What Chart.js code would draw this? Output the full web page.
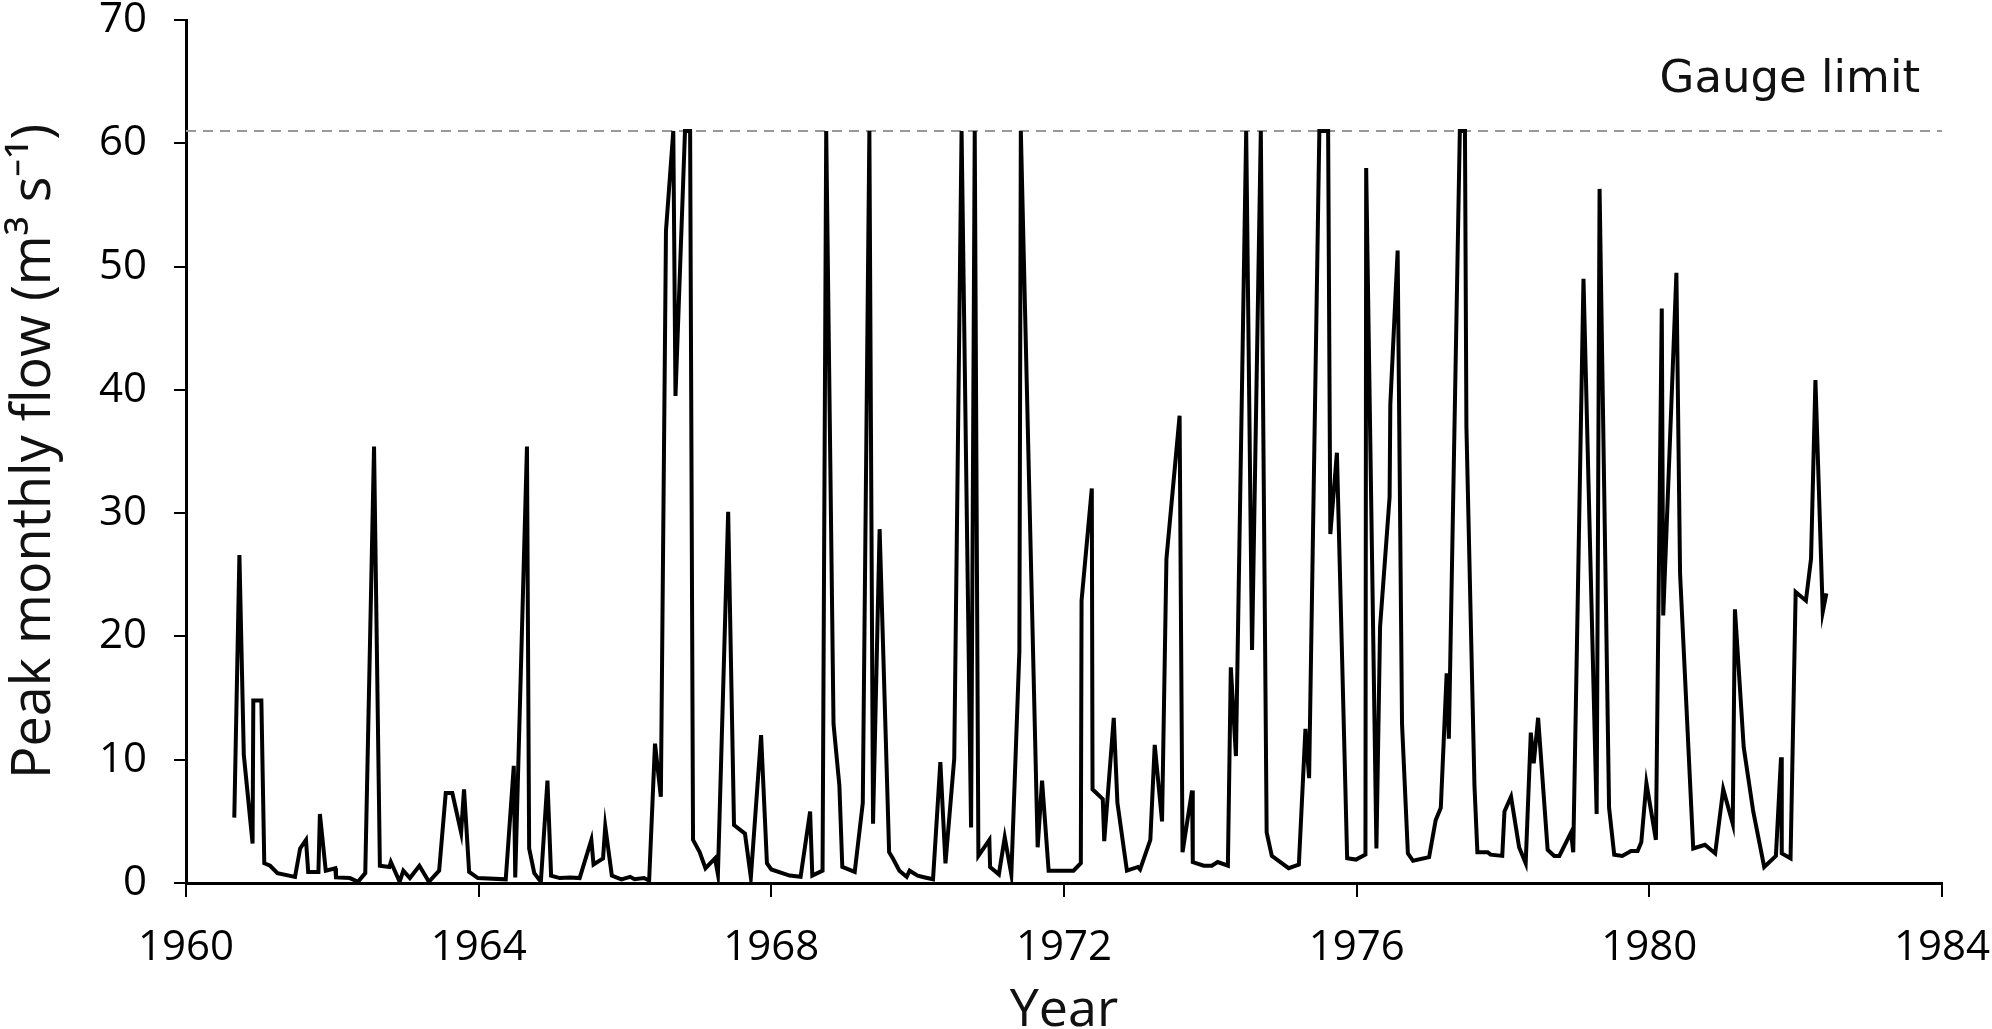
<!DOCTYPE html>
<html>
<head>
<meta charset="utf-8">
<script src="https://cdn.jsdelivr.net/npm/chart.js@4.4.1/dist/chart.umd.min.js"></script>
<style>
  html, body { margin: 0; padding: 0; background: #fff; }
  #wrap { width: 1992px; height: 1029px; }
</style>
</head>
<body>
<div id="wrap"><canvas id="chart_flow"></canvas></div>
<script>
// peak monthly flow (decimal year, m3/s)
var years = [
  1960.66, 1960.73, 1960.79, 1960.91, 1960.92, 1961.03, 1961.07, 1961.15, 1961.25, 1961.49,
  1961.56, 1961.64, 1961.67, 1961.81, 1961.83, 1961.91, 1962.04, 1962.05, 1962.24, 1962.35,
  1962.45, 1962.57, 1962.65, 1962.78, 1962.80, 1962.92, 1962.97, 1963.06, 1963.19, 1963.32,
  1963.46, 1963.55, 1963.64, 1963.76, 1963.80, 1963.87, 1963.99, 1964.37, 1964.48, 1964.50,
  1964.66, 1964.69, 1964.76, 1964.85, 1964.94, 1964.99, 1965.11, 1965.25, 1965.38, 1965.54,
  1965.57, 1965.70, 1965.73, 1965.82, 1965.95, 1966.07, 1966.13, 1966.26, 1966.33, 1966.41,
  1966.49, 1966.56, 1966.66, 1966.69, 1966.82, 1966.89, 1966.93, 1967.02, 1967.10, 1967.23,
  1967.27, 1967.41, 1967.49, 1967.64, 1967.72, 1967.86, 1967.94, 1968.00, 1968.25, 1968.40,
  1968.53, 1968.56, 1968.70, 1968.75, 1968.85, 1968.93, 1968.97, 1969.14, 1969.25, 1969.34,
  1969.39, 1969.48, 1969.61, 1969.66, 1969.75, 1969.85, 1969.89, 1970.00, 1970.10, 1970.21,
  1970.31, 1970.38, 1970.50, 1970.60, 1970.73, 1970.78, 1970.83, 1970.98, 1970.99, 1971.11,
  1971.19, 1971.28, 1971.39, 1971.41, 1971.64, 1971.70, 1971.79, 1971.93, 1972.13, 1972.23,
  1972.24, 1972.38, 1972.39, 1972.53, 1972.55, 1972.68, 1972.73, 1972.86, 1973.01, 1973.04,
  1973.18, 1973.24, 1973.34, 1973.40, 1973.58, 1973.62, 1973.75, 1973.76, 1973.91, 1974.02,
  1974.10, 1974.24, 1974.28, 1974.35, 1974.49, 1974.57, 1974.69, 1974.77, 1974.84, 1975.07,
  1975.21, 1975.30, 1975.35, 1975.49, 1975.61, 1975.64, 1975.73, 1975.87, 1975.99, 1976.12,
  1976.13, 1976.27, 1976.32, 1976.45, 1976.46, 1976.56, 1976.62, 1976.70, 1976.77, 1976.99,
  1977.08, 1977.15, 1977.23, 1977.26, 1977.41, 1977.48, 1977.50, 1977.61, 1977.65, 1977.79,
  1977.83, 1977.99, 1978.02, 1978.11, 1978.22, 1978.31, 1978.38, 1978.42, 1978.48, 1978.61,
  1978.70, 1978.77, 1978.93, 1978.96, 1979.10, 1979.28, 1979.32, 1979.45, 1979.52, 1979.63,
  1979.75, 1979.84, 1979.89, 1979.96, 1980.09, 1980.17, 1980.19, 1980.37, 1980.42, 1980.60,
  1980.76, 1980.90, 1981.01, 1981.14, 1981.17, 1981.29, 1981.42, 1981.57, 1981.73, 1981.80,
  1981.81, 1981.93, 1982.00, 1982.14, 1982.21, 1982.27, 1982.37, 1982.42
];
var flow = [
  5.3, 26.6, 10.4, 3.2, 14.8, 14.8, 1.6, 1.4, 0.8, 0.5,
  2.8, 3.5, 0.9, 0.9, 5.6, 1.0, 1.2, 0.45, 0.4, 0.1,
  0.8, 35.4, 1.4, 1.3, 1.7, 0.1, 1.0, 0.4, 1.4, 0.1,
  1.0, 7.3, 7.3, 4.1, 7.6, 0.9, 0.4, 0.3, 9.5, 0.45,
  35.4, 2.8, 0.8, 0.1, 8.3, 0.6, 0.4, 0.45, 0.4, 3.5,
  1.5, 2.0, 4.6, 0.6, 0.3, 0.5, 0.3, 0.4, 0.2, 11.3,
  7.0, 52.9, 61, 39.5, 61, 61, 3.5, 2.5, 1.2, 2.0,
  0.7, 30.1, 4.7, 4.0, 0.45, 12.0, 1.6, 1.1, 0.6, 0.5,
  5.8, 0.6, 1.0, 61, 12.9, 7.9, 1.3, 0.9, 6.5, 61,
  4.8, 28.7, 2.5, 2.0, 1.0, 0.5, 1.0, 0.6, 0.45, 0.3,
  9.8, 1.6, 10.1, 61, 4.5, 61, 2.2, 3.5, 1.3, 0.7,
  3.7, 0.7, 18.8, 61, 2.9, 8.3, 1.0, 1.0, 1.0, 1.6,
  22.9, 32.0, 7.6, 6.8, 3.4, 13.4, 6.5, 1.0, 1.3, 1.1,
  3.5, 11.2, 5.0, 26.3, 37.9, 2.5, 7.5, 1.7, 1.4, 1.4,
  1.7, 1.4, 17.5, 10.3, 61, 18.9, 61, 4.1, 2.2, 1.2,
  1.5, 12.5, 8.5, 61, 61, 28.3, 34.9, 2.0, 1.9, 2.3,
  58.0, 2.8, 20.8, 31.3, 38.8, 51.3, 12.9, 2.4, 1.8, 2.1,
  5.1, 6.1, 17.0, 11.7, 61, 61, 37.0, 7.9, 2.5, 2.5,
  2.3, 2.2, 5.8, 7.0, 2.9, 1.6, 12.2, 9.7, 13.4, 2.7,
  2.2, 2.2, 4.1, 2.5, 49.0, 5.6, 56.3, 6.1, 2.3, 2.2,
  2.6, 2.6, 3.3, 8.1, 3.5, 46.6, 21.7, 49.5, 25.1, 2.8,
  3.1, 2.4, 7.6, 4.8, 22.2, 11.0, 5.8, 1.3, 2.2, 10.2,
  2.4, 2.0, 23.6, 22.9, 26.3, 40.8, 22.0, 23.5
];

var gaugeLimit = 61;
var gaugeYears = [1960, 1984];
var xTicks = [1960, 1964, 1968, 1972, 1976, 1980, 1984];
var yTicks = [0, 10, 20, 30, 40, 50, 60, 70];

// label for the dashed line
var gaugeLabel = {
  id: 'gaugeLabel',
  afterDatasetsDraw: function(chart) {
    var ctx = chart.ctx;
    var xs = chart.scales.x, ys = chart.scales.y;
    ctx.save();
    ctx.font = '45px "DejaVu Sans"';
    ctx.fillStyle = '#111';
    ctx.textAlign = 'right';
    ctx.textBaseline = 'middle';
    ctx.fillText('Gauge limit', xs.getPixelForValue(1983.7), ys.getPixelForValue(65.1));
    ctx.restore();
  }
};

var points = years.map(function(y, i) { return {x: y, y: flow[i]}; });
var gaugeLine = gaugeYears.map(function(y) { return {x: y, y: gaugeLimit}; });

var ctxFlow = document.getElementById('chart_flow').getContext('2d');
var chartFlow = new Chart(ctxFlow, {
  type: 'line',
  data: {
    datasets: [{
      label: 'Peak monthly flow',
      data: points,
      borderColor: '#000',
      borderWidth: 4,
      pointRadius: 0,
      tension: 0,
      fill: false,
      order: 1
    }, {
      label: 'Gauge limit',
      data: gaugeLine,
      borderColor: '#999',
      borderWidth: 2,
      borderDash: [10, 7],
      pointRadius: 0,
      fill: false,
      order: 2
    }]
  },
  options: {
    responsive: true,
    maintainAspectRatio: false,
    animation: false,
    layout: { padding: { top: 20, right: 50, left: 0, bottom: 0 } },
    plugins: { legend: { display: false }, tooltip: { enabled: false } },
    scales: {
      x: {
        type: 'linear',
        min: 1960,
        max: 1984,
        afterBuildTicks: function(s) { s.ticks = xTicks.map(function(v) { return {value: v}; }); },
        afterFit: function(s) { s.height = 146; s.paddingLeft = 0; s.paddingRight = 0; },
        ticks: {
          callback: function(v) { return String(v); },
          font: { family: 'Open Sans', size: 42, lineHeight: 1 },
          color: '#000',
          padding: 30,
          maxRotation: 0
        },
        grid: { drawOnChartArea: false, color: '#000', lineWidth: 2, tickLength: 14 },
        border: { color: '#000', width: 3 },
        title: {
          display: true,
          text: 'Year',
          font: { family: 'Open Sans', size: 52, lineHeight: 0.7 },
          color: '#111',
          padding: { top: 0, bottom: 0 }
        }
      },
      y: {
        min: 0,
        max: 70,
        afterBuildTicks: function(s) { s.ticks = yTicks.map(function(v) { return {value: v}; }); },
        afterFit: function(s) { s.width = 186; s.paddingTop = 0; s.paddingBottom = 0; },
        ticks: {
          font: { family: 'Open Sans', size: 42, lineHeight: 1 },
          color: '#000',
          padding: 27
        },
        grid: { drawOnChartArea: false, color: '#000', lineWidth: 2, tickLength: 12 },
        border: { color: '#000', width: 3 },
        title: {
          display: true,
          text: 'Peak monthly flow (m³ s⁻¹)',
          font: { family: 'Open Sans', size: 54 },
          color: '#111',
          padding: { top: 2, bottom: 0 }
        }
      }
    }
  },
  plugins: [gaugeLabel]
});
</script>
</body>
</html>
